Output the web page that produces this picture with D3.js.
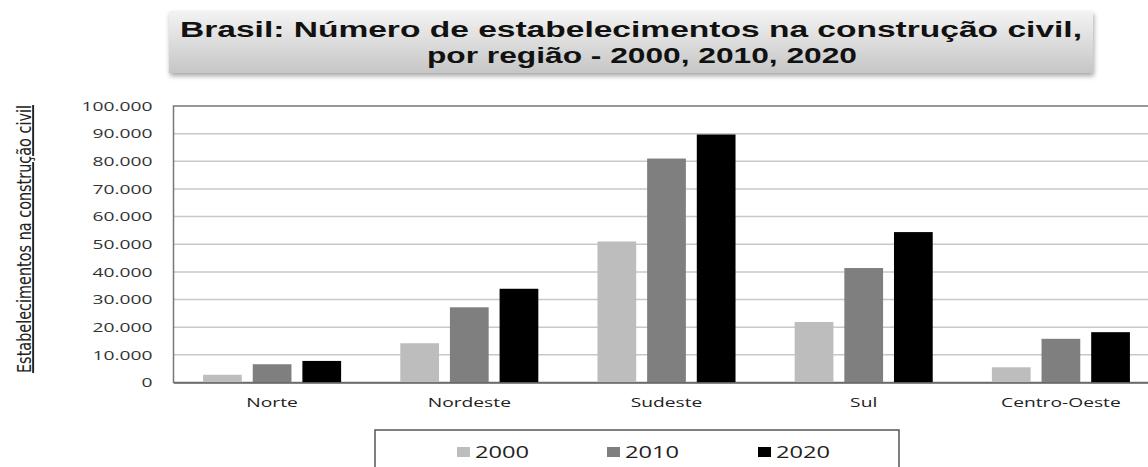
<!DOCTYPE html>
<html>
<head>
<meta charset="utf-8">
<script src="https://cdn.jsdelivr.net/npm/d3@7"></script>
<style>
  body { margin: 0; background: #fff; overflow: hidden; }
  text { font-family: "Open Sans", sans-serif; }
</style>
</head>
<body>
<svg id="chart"></svg>
<script>
const regions = ['Norte', 'Nordeste', 'Sudeste', 'Sul', 'Centro-Oeste']
const years = ['2000', '2010', '2020']
const v2000 = [2800, 14200, 51000, 21900, 5500]
const v2010 = [6600, 27200, 81000, 41400, 15800]
const v2020 = [7800, 33900, 89700, 54400, 18200]
const yTicks = [0, 10000, 20000, 30000, 40000, 50000, 60000, 70000, 80000, 90000, 100000]
const colors = ['#bdbdbd', '#7f7f7f', '#000000']

const width = 1148
const height = 467
const plotLeft = 173.5
const plotTop = 106
const plotBottom = 382.5
const step = 197.2
// the original picture is stretched sideways, so text is widened too
const stretch = 1.48

const svg = d3.select('#chart').attr('width', width).attr('height', height)

const defs = svg.append('defs')
const grad = defs.append('linearGradient').attr('id', 'tgrad')
    .attr('x1', 0).attr('x2', 0).attr('y1', 0).attr('y2', 1)
grad.append('stop').attr('offset', '0%').attr('stop-color', '#f3f3f3')
grad.append('stop').attr('offset', '100%').attr('stop-color', '#c6c6c6')
const shadow = defs.append('filter').attr('id', 'shadow')
    .attr('x', '-5%').attr('y', '-20%').attr('width', '110%').attr('height', '150%')
shadow.append('feDropShadow').attr('dx', 1).attr('dy', 3).attr('stdDeviation', 2.5)
    .attr('flood-color', '#000').attr('flood-opacity', 0.35)

// title box
svg.append('rect')
    .attr('x', 169).attr('y', 11).attr('width', 924).attr('height', 62)
    .attr('fill', 'url(#tgrad)').attr('filter', 'url(#shadow)')
const titleLines = [
    { text: 'Brasil: Número de estabelecimentos na construção civil,', x: 180, y: 36.5, len: 902 },
    { text: 'por região - 2000, 2010, 2020', x: 427, y: 62.5, len: 430 }
]
svg.selectAll('.title')
    .data(titleLines)
    .enter()
    .append('text')
    .attr('class', 'title')
    .attr('x', d => d.x).attr('y', d => d.y)
    .attr('textLength', d => d.len)
    .attr('lengthAdjust', 'spacingAndGlyphs')
    .style('font-family', '"Liberation Sans", Arial, sans-serif')
    .style('font-weight', 'bold').style('font-size', '22px')
    .attr('fill', '#111')
    .text(d => d.text)

const x = d3.scaleBand()
    .domain(regions)
    .range([plotLeft, plotLeft + step * regions.length])
    .paddingInner(0.3)
    .paddingOuter(0.15)
const x1 = d3.scaleBand()
    .domain(years)
    .range([0, x.bandwidth()])
    .paddingInner(0.22)
const y = d3.scaleLinear().domain([0, 100000]).range([plotBottom, plotTop])

// grid
svg.append('g')
    .selectAll('line')
    .data(yTicks.slice(1, -1))
    .enter()
    .append('line')
    .attr('x1', plotLeft).attr('x2', width)
    .attr('y1', d => y(d)).attr('y2', d => y(d))
    .attr('stroke', '#c8c8c8').attr('stroke-width', 1.5)

// plot border
svg.append('rect')
    .attr('x', plotLeft).attr('y', y(100000)).attr('width', width)
    .attr('height', plotBottom - y(100000))
    .attr('fill', 'none').attr('stroke', '#777').attr('stroke-width', 1.5)

const series = [v2000, v2010, v2020]
const rows = regions.map((r, i) => ({ region: r, values: series.map((s, k) => ({ year: years[k], value: s[i], k })) }))

svg.append('g')
    .selectAll('g')
    .data(rows)
    .enter()
    .append('g')
    .attr('transform', d => `translate(${x(d.region)},0)`)
    .selectAll('rect')
    .data(d => d.values)
    .enter()
    .append('rect')
    .attr('x', d => x1(d.year))
    .attr('width', x1.bandwidth())
    .attr('y', d => y(d.value))
    .attr('height', d => plotBottom - y(d.value))
    .attr('fill', d => colors[d.k])

// axes
const yAxis = d3.axisLeft(y)
    .tickValues(yTicks)
    .tickSize(0)
    .tickPadding(21 / stretch)
    .tickFormat(d => d3.format(',')(d).replace(/,/g, '.'))
svg.append('g')
    .attr('transform', `translate(${plotLeft},0)`)
    .call(yAxis)
    .call(g => g.select('.domain').remove())
    .selectAll('text')
    .attr('transform', `scale(${stretch},1)`)
    .style('font-family', '"Open Sans", sans-serif')
    .style('font-size', '13px')
    .attr('fill', '#333')

const xAxis = d3.axisBottom(x).tickSize(0).tickPadding(15)
svg.append('g')
    .attr('transform', `translate(0,${plotBottom})`)
    .call(xAxis)
    .call(g => g.select('.domain').attr('stroke', '#666').attr('stroke-width', 1.5))
    .selectAll('text')
    .attr('transform', `scale(${stretch},1)`)
    .style('font-family', '"Open Sans", sans-serif')
    .style('font-size', '13px')
    .attr('fill', '#222')

// y title
svg.append('text')
    .attr('transform', `translate(31,239) scale(${stretch},1) rotate(-90)`)
    .attr('text-anchor', 'middle')
    .style('font-family', '"Liberation Sans Narrow", "DejaVu Sans Condensed", sans-serif')
    .style('font-size', '13px')
    .style('text-decoration', 'underline')
    .attr('fill', '#222')
    .attr('textLength', 268)
    .attr('lengthAdjust', 'spacingAndGlyphs')
    .text('Estabelecimentos na construção civil')

// legend
const legend = svg.append('g')
legend.append('rect')
    .attr('x', 375).attr('y', 430).attr('width', 524).attr('height', 60)
    .attr('fill', '#fff').attr('stroke', '#555').attr('stroke-width', 1.5)
const lx = [457, 607, 758]
const item = legend.selectAll('.item')
    .data(years)
    .enter()
    .append('g')
    .attr('class', 'item')
    .attr('transform', (d, i) => `translate(${lx[i]},452)`)
item.append('rect')
    .attr('x', 0).attr('y', -5).attr('width', 13).attr('height', 10)
    .attr('fill', (d, i) => colors[i])
item.append('text')
    .attr('x', 18 / stretch).attr('dy', '0.35em')
    .attr('transform', `scale(${stretch},1)`)
    .style('font-size', '16px')
    .attr('fill', '#222')
    .text(d => d)
</script>
</body>
</html>
